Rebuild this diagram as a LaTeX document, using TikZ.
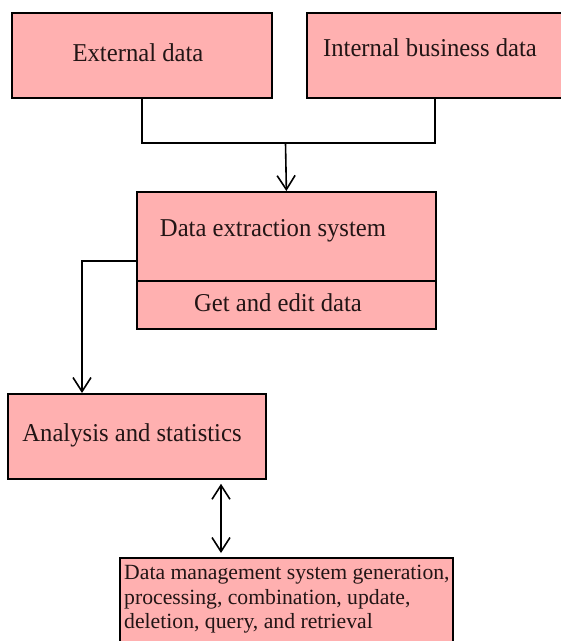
\documentclass[tikz,border=0pt]{standalone}
\usepackage{fontspec}
\setmainfont{Liberation Serif}
\newfontfamily\narrowserif[FakeStretch=0.96]{Liberation Serif}
\usetikzlibrary{arrows.meta}
\definecolor{boxfill}{HTML}{FFB0B0}
\definecolor{ink}{HTML}{221515}
\begin{document}
\begin{tikzpicture}[x=1pt,y=-1pt,
  box/.style={draw=black, fill=boxfill, line width=1.8pt, rectangle, inner sep=0pt, anchor=north west},
  txt/.style={inner sep=0pt, anchor=base, font=\narrowserif\fontsize{25.7}{30}\selectfont, text=ink},
  small/.style={inner sep=0pt, font=\fontsize{21.7}{24.5}\selectfont, align=left, text=ink, anchor=north west},
  conn/.style={line width=1.6pt},
  arr/.style={conn, -{Straight Barb[length=14pt,width=18pt,line width=1.6pt]}},
  darr/.style={conn, {Straight Barb[length=14pt,width=18pt,line width=1.6pt]}-{Straight Barb[length=14pt,width=18pt,line width=1.6pt]}}]
\useasboundingbox (0,0) rectangle (561,641);
\clip (0,0) rectangle (561,641);
\fill[white] (0,0) rectangle (561,641);

% data sources
\node[box, minimum width=260pt, minimum height=85pt] (ext) at (11,12) {};
\node[txt] (extT) at (138,61.5) {External data};
\node[box, minimum width=274pt, minimum height=85pt] (int) at (306,12) {};
\node[txt] (intT) at (430,56) {Internal business data};

% extraction system
\node[box, minimum width=299pt, minimum height=89pt] (desU) at (136,191) {};
\node[box, minimum width=299pt, minimum height=48pt] (desL) at (136,280) {};
\node[txt] (desT) at (273,236.5) {Data extraction system};
\node[txt] (desLT) at (278,311.5) {Get and edit data};

% analysis
\node[box, minimum width=258pt, minimum height=85pt] (ana) at (7,393) {};
\node[txt] (anaT) at (132,441.5) {Analysis and statistics};

% data management
\node[box, minimum width=333pt, minimum height=110pt] (dm) at (119,557) {};
\node[small] (dmT) at (124,565) {Data management system generation,\\processing, combination, update,\\deletion, query, and retrieval};

% connectors
\coordinate (join) at (285.5,143);
\draw[conn] (ext.south) |- (join) -| ([xshift=129pt]int.south west);
\draw[arr] (join) -- (desU.north);
\draw[arr] ([yshift=-24.5pt]desU.west) -| ([xshift=75pt]ana.north west);
\draw[darr, shorten <=4pt, shorten >=4pt] ([xshift=214pt]ana.south west) -- ([xshift=102pt]dm.north west);
\end{tikzpicture}
\end{document}
